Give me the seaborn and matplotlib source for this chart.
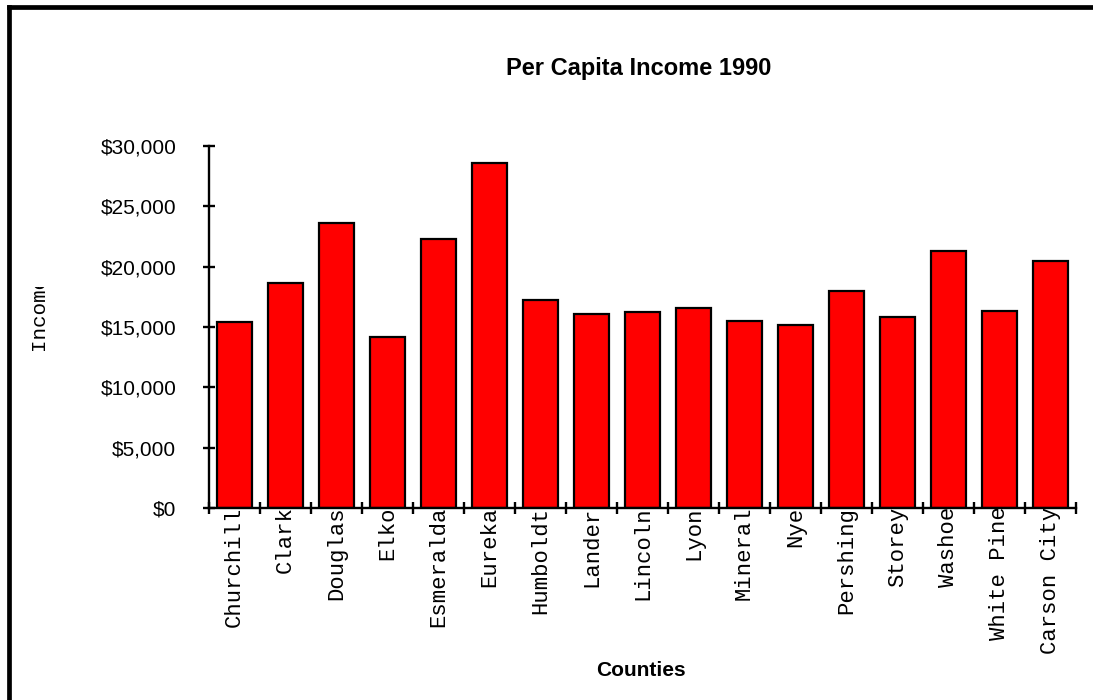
import matplotlib
matplotlib.use("Agg")
import matplotlib.pyplot as plt
from matplotlib.ticker import StrMethodFormatter, FixedLocator
from matplotlib.lines import Line2D
from matplotlib.transforms import Bbox
import seaborn as sns
import pandas as pd

# Per capita income by Nevada county, 1990
counties = ["Churchill", "Clark", "Douglas", "Elko", "Esmeralda", "Eureka",
            "Humboldt", "Lander", "Lincoln", "Lyon", "Mineral", "Nye",
            "Pershing", "Storey", "Washoe", "White Pine", "Carson City"]
income = [15420, 18650, 23590, 14160, 22270, 28620,
          17220, 16060, 16280, 16610, 15480, 15180,
          17960, 15810, 21330, 16330, 20450]
y_ticks = [0, 5000, 10000, 15000, 20000, 25000, 30000]

df = pd.DataFrame({"County": counties, "Income": income})

sns.set_style("ticks")
plt.rcParams["font.family"] = ["Liberation Sans", "DejaVu Sans"]
plt.rcParams.update({"text.color": "black", "axes.labelcolor": "black",
                     "xtick.color": "black", "ytick.color": "black"})

W, H = 1093, 700
fig = plt.figure(figsize=(W / 100, H / 100), dpi=100)
ax = fig.add_axes([209 / W, 1 - 508 / H, (1076 - 209) / W, (508 - 146) / H])

sns.barplot(data=df, x="County", y="Income", color="#ff0000", saturation=1,
            edgecolor="black", linewidth=1.6, width=0.68, ax=ax)

ax.set_xlim(-0.5, len(counties) - 0.5)
ax.set_ylim(0, 30000)
ax.set_xlabel("")
ax.set_ylabel("")

for side in ("top", "right"):
    ax.spines[side].set_visible(False)
for side in ("left", "bottom"):
    ax.spines[side].set_linewidth(1.7)
    ax.spines[side].set_color("black")

# y axis: dollar ticks crossing the spine
ax.yaxis.set_major_locator(FixedLocator(y_ticks))
ax.yaxis.set_major_formatter(StrMethodFormatter("${x:,.0f}"))
ax.tick_params(axis="y", left=True, direction="inout", length=9, width=1.7,
               labelsize=15, pad=19, colors="black")

# x axis: tick marks between categories, labels under each bar
ax.set_xticks(range(len(counties)))
ax.set_xticklabels(counties, rotation=90, family=["Liberation Mono", "DejaVu Sans Mono"],
                   fontsize=16)
ax.set_xticks([i - 0.5 for i in range(len(counties) + 1)], minor=True)
ax.tick_params(axis="x", which="major", bottom=True, length=0, pad=-1)
ax.tick_params(axis="x", which="minor", bottom=True, direction="inout", length=9, width=1.7)
ax.tick_params(axis="x", colors="black")
ax.grid(False)

fig.text(639 / W, 1 - 68 / H, "Per Capita Income 1990", ha="center", va="center",
         fontsize=17, fontweight="bold", color="black")
fig.text(641 / W, 1 - 670 / H, "Counties", ha="center", va="center",
         fontsize=15, fontweight="bold", color="black")

ylab = fig.text(38 / W, 1 - 350 / H, "Income", rotation=90, ha="center", va="bottom",
                family=["Liberation Mono", "DejaVu Sans Mono"], fontsize=15, color="black")
ylab.set_clip_box(Bbox([[0, 0], [W, H - 287]]))
ylab.set_clip_on(True)

# outer frame around the chart (left and top edges)
fig.add_artist(Line2D([9 / W, 9 / W], [-0.05, 1 - 6.5 / H], transform=fig.transFigure,
                      color="black", linewidth=3.4, solid_capstyle="projecting"))
fig.add_artist(Line2D([9 / W, 1.05], [1 - 6.5 / H, 1 - 6.5 / H], transform=fig.transFigure,
                      color="black", linewidth=3.4, solid_capstyle="projecting"))

fig.savefig("out.png", dpi=100)
